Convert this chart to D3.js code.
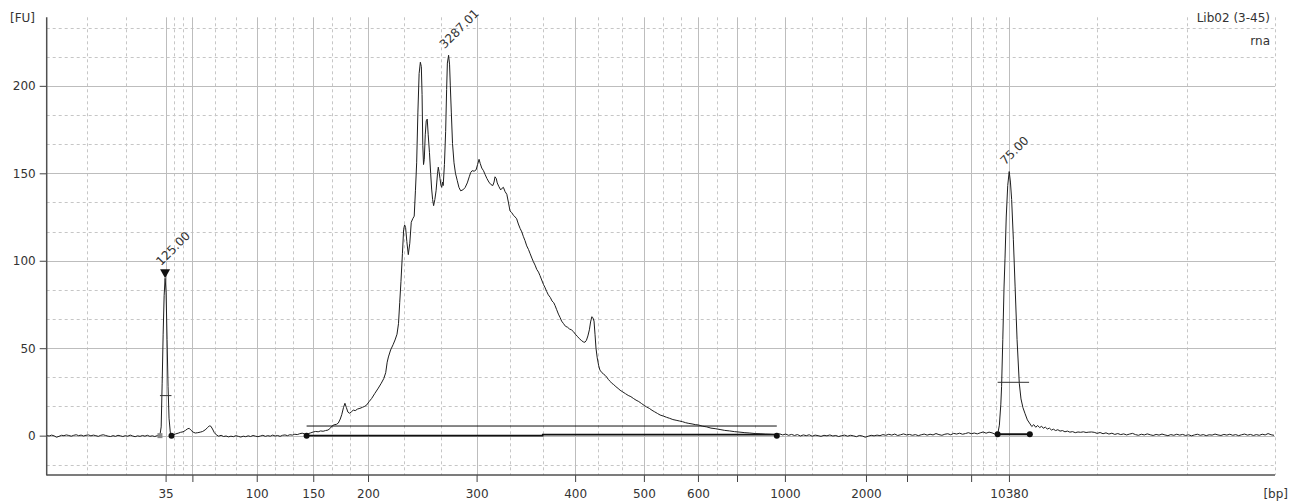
<!DOCTYPE html>
<html>
<head>
<meta charset="utf-8">
<script src="https://cdn.jsdelivr.net/npm/d3@7"></script>
<style>
  body { margin: 0; background: #fff; }
  svg { display: block; }
  text { font-family: "DejaVu Sans", Verdana, sans-serif; font-size: 12px; fill: #333; }
</style>
</head>
<body>
<svg id="chart" width="1291" height="503"></svg>
<script>
// Migration time (s) of each ladder peak and the size label printed under it
const ladderTimes  = [23.84, 24.93, 27.55, 29.85, 32.08, 36.50, 40.51, 43.31, 45.51, 47.10, 49.05, 52.35, 54.02, 56.63, 58.17];
const ladderLabels = ["35", "", "100", "150", "200", "300", "400", "500", "600", "", "1000", "2000", "", "", "10380"];

// Intermediate (dashed) time grid
const minorTimes = [20.63, 22.23, 24.18, 24.56, 25.85, 26.71, 28.29, 29.04, 30.63, 31.35, 33.56, 35.04,
                    37.86, 39.19, 41.43, 42.41, 44.08, 44.82, 46.30, 47.83, 50.14, 51.36, 53.12, 55.84,
                    57.11, 57.63, 61.75, 65.41, 69.00];

// Fluorescence axis
const fuTicks = [0, 50, 100, 150, 200];
const fuMinor = [-16.67, 16.67, 33.33, 66.67, 83.33, 116.67, 133.33, 166.67, 183.33, 216.67, 233.33];

// Electropherogram trace: [time s, FU]
const trace = [
  [19.0,0.1],[19.1,-0.2],[19.2,0.3],[19.3,-0.1],[19.4,-0.9],[19.5,-0.4],[19.6,0.2],[19.7,0.0],[19.8,0.4],[19.9,0.1],
  [20.0,-0.3],[20.1,0.2],[20.2,0.5],[20.3,0.0],[20.4,0.3],[20.5,-0.2],[20.6,0.2],[20.7,0.4],[20.8,-0.1],[20.9,0.3],
  [21.0,0.0],[21.1,-0.4],[21.2,0.2],[21.3,0.5],[21.4,0.1],[21.5,-0.3],[21.6,-0.5],[21.7,0.0],[21.8,-0.4],[21.9,0.2],
  [22.0,-0.1],[22.1,-0.5],[22.2,0.0],[22.3,-0.3],[22.4,0.3],[22.5,-0.2],[22.6,-0.6],[22.7,-0.1],[22.8,-0.4],[22.9,0.1],
  [23.0,-0.3],[23.1,0.2],[23.2,-0.4],[23.3,-0.1],[23.4,-0.5],[23.5,0.0],[23.61,0.3],
  [23.66,5],[23.70,30],[23.74,58],[23.78,80],[23.82,90],[23.86,82],[23.90,55],[23.94,28],[23.98,10],[24.03,2],[24.08,-0.2],
  [24.15,0.4],[24.25,1.0],[24.35,1.4],[24.45,1.9],[24.55,2.2],[24.65,3.0],[24.72,3.8],[24.80,4.2],[24.88,3.0],[24.96,2.0],
  [25.05,1.5],[25.15,1.7],[25.25,2.0],[25.35,2.4],[25.45,3.3],[25.55,4.6],[25.62,5.6],[25.68,5.4],[25.75,3.8],[25.82,1.8],
  [25.90,0.5],[26.0,-0.3],[26.1,0.2],[26.2,-0.5],[26.3,-0.2],[26.4,-0.7],[26.5,-0.3],[26.6,-0.6],[26.7,0.0],[26.8,-0.4],
  [26.9,-0.8],[27.0,-0.3],[27.1,-0.6],[27.2,-0.1],[27.3,-0.5],[27.4,0.1],[27.5,-0.3],[27.6,-0.6],[27.7,-0.2],[27.8,0.2],
  [27.9,-0.4],[28.0,0.0],[28.1,-0.3],[28.2,0.3],[28.3,-0.2],[28.4,0.1],[28.5,-0.4],[28.6,0.2],[28.7,0.4],[28.8,0.0],
  [28.9,0.5],[29.0,0.3],[29.1,0.8],[29.2,0.6],[29.3,1.1],[29.4,1.4],[29.5,1.0],[29.58,0.5],[29.66,1.2],[29.75,1.6],
  [29.85,2.1],[29.95,2.4],[30.05,2.2],[30.15,2.7],[30.25,2.5],[30.35,2.9],[30.45,3.2],[30.55,4.3],[30.62,5.6],[30.70,6.2],
  [30.80,6.5],[30.87,7.2],[30.95,9.5],[31.01,12],[31.08,16],[31.14,18.5],[31.20,16],[31.26,13.5],[31.32,12.8],[31.40,13.6],
  [31.48,14.6],[31.56,14.3],[31.65,15.2],[31.75,15.6],[31.85,16.2],[31.95,16.8],[32.03,17.6],[32.12,19.4],[32.23,21.3],[32.35,24],
  [32.50,27.2],[32.62,30],[32.72,32.6],[32.80,36],[32.86,42],[32.91,45],[33.00,49],[33.10,52],[33.18,54.7],[33.26,58],
  [33.32,64],[33.37,76],[33.42,88],[33.48,104],[33.53,118],[33.57,120.5],[33.61,119],[33.66,111],[33.72,103.5],[33.78,110],
  [33.84,122],[33.90,124],[33.96,125.5],[34.01,140],[34.06,156],[34.11,185],[34.16,207],[34.21,213.5],[34.25,211],[34.28,195],
  [34.31,166],[34.34,155],[34.37,158],[34.41,172],[34.45,180],[34.49,181],[34.53,172],[34.58,162],[34.63,150],[34.67,141],
  [34.71,135],[34.75,131.5],[34.80,135],[34.85,140],[34.88,145],[34.91,150],[34.94,153.5],[34.97,151],[35.01,147],[35.05,143],
  [35.08,142],[35.11,145],[35.14,143],[35.19,155],[35.24,174],[35.28,198],[35.31,213],[35.36,217.5],[35.40,212],[35.43,200],
  [35.47,185],[35.52,167],[35.58,156],[35.64,150],[35.71,146],[35.78,142],[35.85,140],[35.94,140.5],[36.03,141.8],[36.12,144.5],
  [36.20,148],[36.26,150.5],[36.32,151.5],[36.40,151.2],[36.48,152],[36.54,155],[36.60,158],[36.65,155.5],[36.71,153],[36.78,151.5],
  [36.84,149.5],[36.92,147],[37.00,145],[37.08,143.6],[37.16,143],[37.21,145],[37.25,148],[37.30,147],[37.34,144.5],[37.40,142.6],
  [37.48,140.5],[37.54,141.5],[37.59,142],[37.66,139.5],[37.73,138],[37.80,133],[37.86,128.5],[37.93,127.5],[38.00,126],[38.07,125],
  [38.13,124],[38.20,121],[38.27,118.5],[38.34,116.5],[38.40,114],[38.47,111.5],[38.54,108.5],[38.61,106.5],[38.68,104],[38.75,101.5],
  [38.81,99.5],[38.88,97.5],[38.95,95],[39.02,93.5],[39.08,91.5],[39.15,89],[39.22,86.5],[39.29,84.5],[39.35,82.5],[39.42,80.5],
  [39.50,79],[39.57,77],[39.64,76],[39.69,74.5],[39.76,72],[39.83,69.5],[39.90,67.5],[39.96,65.5],[40.04,64],[40.12,62.5],
  [40.20,62],[40.28,61],[40.36,60.5],[40.44,59.5],[40.52,58],[40.60,56.8],[40.68,55.5],[40.76,54.5],[40.84,53.6],[40.91,53.4],
  [40.97,54.5],[41.03,57],[41.09,60.5],[41.14,65],[41.19,68],[41.23,67.5],[41.28,65.5],[41.32,58],[41.36,50],[41.41,44.5],
  [41.47,40],[41.52,37.5],[41.60,36],[41.67,35.2],[41.73,34.5],[41.80,33.4],[41.87,32],[41.94,31],[42.00,30],[42.08,29.2],
  [42.17,28],[42.26,27],[42.34,26],[42.45,25],[42.56,24],[42.67,23],[42.78,22.3],[42.88,21.3],[42.99,20.3],[43.10,19.5],
  [43.21,18.4],[43.32,17.3],[43.42,16.4],[43.53,15.6],[43.64,14.5],[43.75,13.6],[43.86,12.7],[43.97,11.8],[44.10,11.2],[44.23,10.5],
  [44.36,9.9],[44.49,9.2],[44.62,8.8],[44.75,8.4],[44.88,8.0],[45.01,7.4],[45.14,7.0],[45.27,6.7],[45.40,6.3],[45.53,6.1],
  [45.70,5.4],[45.87,5.0],[46.04,4.3],[46.21,4.0],[46.41,3.5],[46.60,3.0],[46.80,2.7],[47.00,2.3],[47.22,2.0],[47.42,1.7],
  [47.62,1.5],[47.84,1.2],[48.04,1.1],[48.25,0.9],[48.45,0.8],[48.72,0.6],
  [48.84,1.0],[48.96,0.4],[49.08,0.9],[49.20,0.2],[49.32,0.7],[49.44,0.1],[49.56,0.6],[49.68,-0.2],[49.80,0.4],[49.92,0.0],
  [50.04,0.5],[50.16,-0.3],[50.28,0.3],[50.40,0.0],[50.52,-0.4],[50.64,0.2],[50.76,-0.1],[50.88,0.4],[51.00,-0.2],[51.12,0.1],
  [51.24,-0.5],[51.36,0.0],[51.48,0.3],[51.60,-0.3],[51.72,0.2],[51.84,-0.1],[51.96,-0.6],[52.08,0.1],[52.20,-0.2],[52.32,-0.9],
  [52.44,-0.3],[52.56,0.2],[52.68,-0.1],[52.80,0.3],[52.92,0.0],[53.04,0.6],[53.16,0.2],[53.28,0.8],[53.40,0.3],[53.52,0.9],
  [53.64,0.1],[53.76,0.5],[53.88,1.0],[54.00,0.4],[54.12,0.7],[54.24,0.2],[54.36,0.6],[54.48,0.0],[54.60,0.5],[54.72,0.9],
  [54.84,0.3],[54.96,0.8],[55.08,0.4],[55.20,1.2],[55.32,0.6],[55.44,0.2],[55.56,0.8],[55.68,1.1],[55.80,0.5],[55.92,1.3],
  [56.04,0.9],[56.16,1.4],[56.28,0.8],[56.40,1.2],[56.52,1.7],[56.64,1.1],[56.76,1.5],[56.88,1.0],[57.00,1.6],[57.12,2.1],
  [57.24,1.4],[57.36,2.0],[57.48,1.6],[57.60,0.9],[57.71,0.6],
  [57.78,6],[57.84,18],[57.87,28],[57.92,55],[57.97,85],[58.01,101.5],[58.06,125],[58.12,143],[58.18,151],[58.23,145],
  [58.28,135],[58.35,112],[58.42,85.5],[58.50,55],[58.59,30],[58.66,21],[58.74,16],[58.82,12.8],[58.92,9],[59.03,6.7],
  [59.10,5.2],[59.18,6.3],[59.26,4.8],[59.34,5.8],[59.42,4.6],[59.50,5.4],[59.57,4.2],[59.65,4.9],[59.73,3.8],[59.82,4.3],
  [59.90,3.2],[59.98,3.7],[60.07,2.9],[60.16,3.4],[60.25,2.6],[60.35,2.9],[60.45,2.2],[60.55,2.6],[60.65,2.0],[60.76,2.3],
  [60.87,1.7],[60.98,2.1],[61.09,1.9],[61.20,2.2],[61.31,1.8],[61.42,2.0],[61.53,2.1],[61.64,1.9],[61.76,1.3],[61.88,1.8],
  [62.00,1.1],[62.12,1.6],[62.24,0.9],[62.36,1.4],[62.48,0.7],[62.60,1.2],[62.72,0.6],[62.84,1.0],[62.96,0.4],[63.08,0.9],
  [63.20,1.3],[63.32,0.6],[63.44,0.2],[63.56,0.8],[63.68,0.4],[63.80,1.0],[63.92,0.5],[64.04,0.1],[64.16,0.7],[64.28,0.3],
  [64.40,0.9],[64.52,0.4],[64.64,0.0],[64.76,0.6],[64.88,0.2],[65.00,0.8],[65.12,0.3],[65.24,0.7],[65.36,0.1],[65.48,0.5],
  [65.60,-0.1],[65.72,0.4],[65.84,0.8],[65.96,0.2],[66.08,0.6],[66.20,0.0],[66.32,0.5],[66.44,0.3],[66.56,0.9],[66.68,0.4],
  [66.80,0.1],[66.92,0.7],[67.04,0.3],[67.16,0.8],[67.28,0.2],[67.40,0.6],[67.52,0.0],[67.64,0.5],[67.76,0.9],[67.88,0.3],
  [68.00,0.7],[68.12,0.1],[68.24,0.6],[68.36,0.2],[68.48,0.8],[68.60,0.4],[68.72,1.2],[68.84,0.5],[68.96,0.2]
];

// Annotated peaks
const peakNames = ["125.00", "3287.01", "75.00"];
const peakTimes = [23.82, 35.36, 58.18];
const peakFU    = [90, 217.5, 151];

// Peak start / end markers (time s) and the half-height bars (FU)
const markerStart = [23.61, 29.58, 57.71];
const markerEnd   = [24.08, 48.72, 59.02];
const halfBarFU   = [22.9, null, 30.5];
const halfBarEnd  = [24.08, null, 58.99];
// Smear region: upper bar level and the step of its lower bar
const regionTopFU = 5.5;
const regionStepTime = 39.19;
const regionStepFU = 0.6;

const svg = d3.select("#chart");
const x = d3.scaleLinear().domain([19, 69]).range([46.7, 1275]);
const y = d3.scaleLinear().domain([-22.5, 239.2]).range([475, 17.3]);
const [x0, x1] = x.range();
const [yb, yt] = y.range();

// grid
const grid = svg.append("g");
grid.selectAll(".vmin").data(minorTimes).join("line")
  .attr("x1", d => Math.round(x(d)) + 0.5).attr("x2", d => Math.round(x(d)) + 0.5)
  .attr("y1", yt).attr("y2", yb)
  .attr("stroke", "#c6c6c6").attr("stroke-dasharray", "3,3");
grid.selectAll(".hmin").data(fuMinor).join("line")
  .attr("x1", x0).attr("x2", x1)
  .attr("y1", d => Math.round(y(d)) + 0.5).attr("y2", d => Math.round(y(d)) + 0.5)
  .attr("stroke", "#c6c6c6").attr("stroke-dasharray", "3,3");
grid.selectAll(".vmaj").data(ladderTimes).join("line")
  .attr("x1", d => Math.round(x(d)) + 0.5).attr("x2", d => Math.round(x(d)) + 0.5)
  .attr("y1", yt).attr("y2", yb)
  .attr("stroke", "#bdbdbd");
grid.selectAll(".hmaj").data(fuTicks).join("line")
  .attr("x1", x0).attr("x2", x1)
  .attr("y1", d => Math.round(y(d)) + 0.5).attr("y2", d => Math.round(y(d)) + 0.5)
  .attr("stroke", "#bdbdbd");

// smear region bars
const reg = svg.append("g");
reg.append("line")
  .attr("x1", x(markerStart[1])).attr("x2", x(markerEnd[1]))
  .attr("y1", y(regionTopFU)).attr("y2", y(regionTopFU))
  .attr("stroke", "#111").attr("stroke-width", 1);
reg.append("path")
  .attr("d", d3.line()([
    [x(markerStart[1]), y(0)], [x(regionStepTime), y(0)],
    [x(regionStepTime), y(regionStepFU)], [x(markerEnd[1]), y(regionStepFU)]
  ]))
  .attr("fill", "none").attr("stroke", "#111").attr("stroke-width", 1.6);

// trace
svg.append("path")
  .datum(trace)
  .attr("d", d3.line().x(d => x(d[0])).y(d => y(d[1])))
  .attr("fill", "none").attr("stroke", "#1e1e1e").attr("stroke-width", 1);

// lower marker bar of the upper marker peak
svg.append("line")
  .attr("x1", x(markerStart[2])).attr("x2", x(markerEnd[2]))
  .attr("y1", y(0.8)).attr("y2", y(0.8))
  .attr("stroke", "#111").attr("stroke-width", 2);

// half-height bars
halfBarFU.forEach((v, i) => {
  if (v === null) return;
  svg.append("line")
    .attr("x1", x(markerStart[i])).attr("x2", x(halfBarEnd[i]))
    .attr("y1", y(v)).attr("y2", y(v))
    .attr("stroke", "#333").attr("stroke-width", 1);
});

// start / end markers
markerStart.forEach((t, i) => {
  if (i === 0) {
    svg.append("rect")
      .attr("x", x(t) - 2.5).attr("y", y(0) - 2.5).attr("width", 5).attr("height", 5)
      .attr("fill", "#8a8a8a");
  } else {
    svg.append("circle").attr("cx", x(t)).attr("cy", y(i === 2 ? 0.8 : 0)).attr("r", 3).attr("fill", "#111");
  }
});
markerEnd.forEach((t, i) => {
  svg.append("circle").attr("cx", x(t)).attr("cy", y(i === 2 ? 0.8 : 0)).attr("r", 3).attr("fill", "#111");
});

// lower-marker triangle
{
  const px = x(peakTimes[0]), py = y(peakFU[0]);
  svg.append("path")
    .attr("d", `M${px - 5},${py - 9}L${px + 5},${py - 9}L${px},${py}Z`)
    .attr("fill", "#111");
}

// peak labels
peakNames.forEach((s, i) => {
  const px = x(peakTimes[i]), py = y(peakFU[i]);
  const lift = i === 0 ? 12 : 6;
  svg.append("text")
    .attr("transform", `translate(${px - 4},${py - lift}) rotate(-45)`)
    .text(s);
});

// axes
const xAxis = d3.axisBottom(x)
  .tickValues(ladderTimes)
  .tickFormat((d, i) => ladderLabels[i])
  .tickSize(7).tickSizeOuter(0).tickPadding(7);
const gx = svg.append("g").attr("transform", `translate(0,${yb})`).call(xAxis);
gx.select(".domain").remove();
gx.selectAll(".tick line").attr("stroke", "#444");

const yAxis = d3.axisLeft(y)
  .tickValues(fuTicks)
  .tickSize(7).tickSizeOuter(0).tickPadding(4);
const gy = svg.append("g").attr("transform", `translate(${x0},0)`).call(yAxis);
gy.select(".domain").remove();
gy.selectAll(".tick line").attr("stroke", "#444");

svg.append("line").attr("x1", x0).attr("x2", x0).attr("y1", yt).attr("y2", yb + 0.5)
  .attr("stroke", "#505050").attr("stroke-width", 1.5);
svg.append("line").attr("x1", x0).attr("x2", x1).attr("y1", yb).attr("y2", yb)
  .attr("stroke", "#505050").attr("stroke-width", 1.5);

// axis units and sample caption
svg.append("text").attr("x", 10).attr("y", 22).text("[FU]");
svg.append("text").attr("x", 1288).attr("y", 497.5).attr("text-anchor", "end").text("[bp]");
svg.append("text").attr("x", 1270).attr("y", 22).attr("text-anchor", "end").text("Lib02 (3-45)");
svg.append("text").attr("x", 1270).attr("y", 45).attr("text-anchor", "end").text("rna");
</script>
</body>
</html>
